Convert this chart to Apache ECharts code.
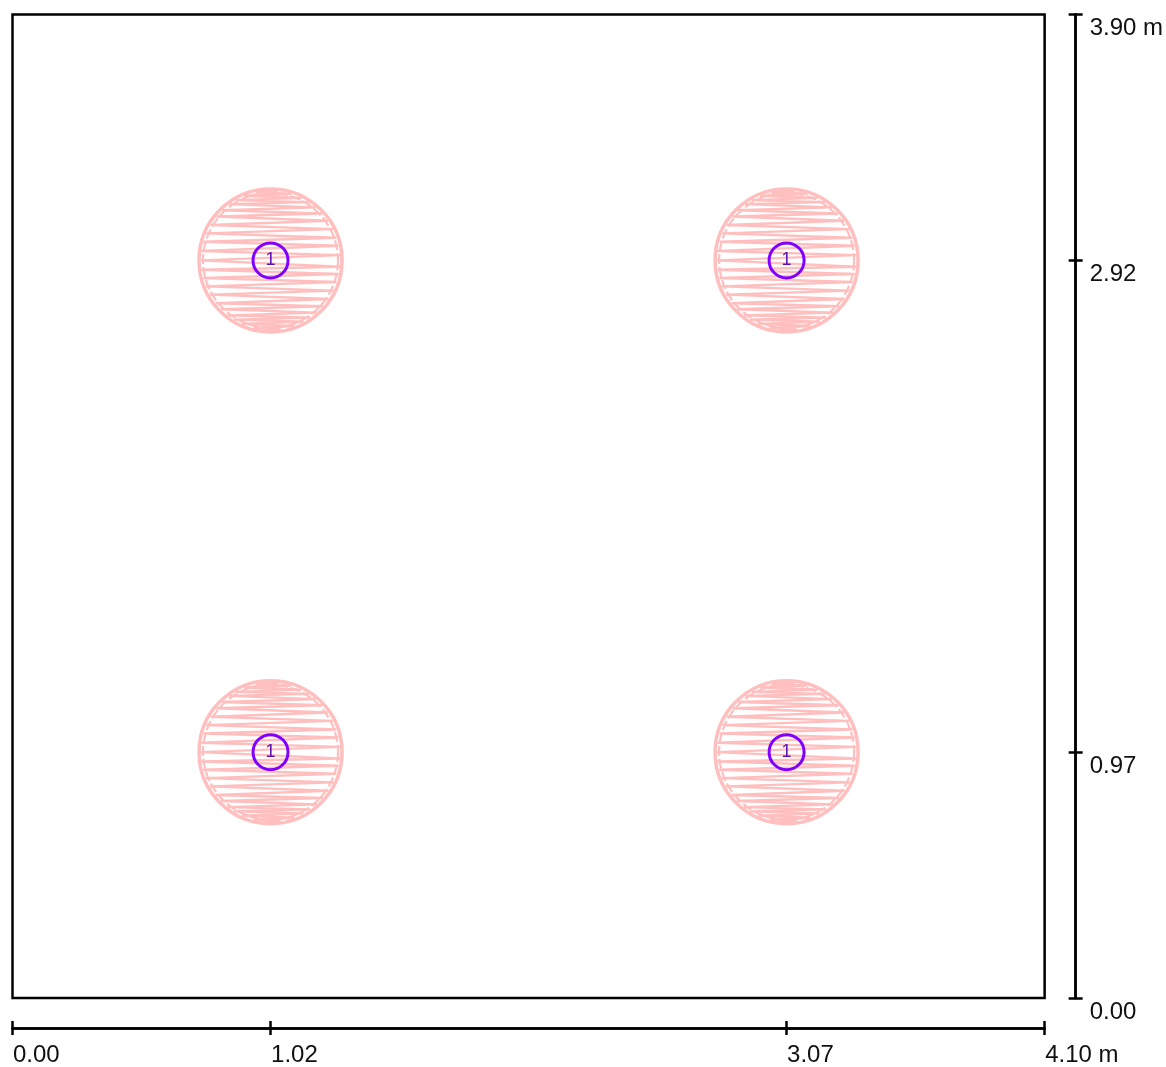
<!DOCTYPE html>
<html>
<head>
<meta charset="utf-8">
<style>html,body{margin:0;padding:0;background:#fff}#c{width:1166px;height:1067px}</style>
<script src="https://cdn.jsdelivr.net/npm/echarts@6/dist/echarts.min.js"></script>
</head>
<body>
<div id="c"></div>
<script>
const xTicks = [0, 1.025, 3.075, 4.1];
const xTickLabels = ['0.00', '1.02', '3.07', '4.10 m'];
const yTicks = [0, 0.975, 2.925, 3.9];
const yTickLabels = ['0.00', '0.97', '2.92', '3.90 m'];
const pileCentres = [[1.025, 2.925], [3.075, 2.925], [1.025, 0.975], [3.075, 0.975]];
const pileNumbers = ['1', '1', '1', '1'];
const pileDiameterPx = 143;
const innerRingDiameterPx = 135;
const barDiameterPx = 35;
// hatch path of one pile, millimetres from the pile centre
const hatchX = [-20,30,-58,82,-105,123,-138,152,-164,179,-192,205,-215,228,-238,248,-255,261,-266,270,-275,276,-277,276,-275,271,-267,262,-257,250,-240,231,-218,208,-197,184,-170,158,-146,131,-114,95,-67,40,-25];
const hatchY = [276,274,270,264,256,248,239,231,223,210,199,186,174,157,140,124,107,90,74,58,37,21,0,-25,-37,-54,-70,-86,-103,-120,-136,-153,-170,-182,-194,-207,-218,-227,-235,-243,-252,-260,-268,-272,-276];

const FONT = '"Liberation Sans", Arial, sans-serif';
const BLACK = '#000';
const PINK = '#ffbfbf';
const PURPLE = '#7f00ff';

function lookup(values, labels) {
  return v => labels[values.findIndex(t => Math.abs(t - v) < 1e-6)] ?? '';
}
function dimX(inside, labelled) {
  return {
    type: 'value', position: 'bottom', offset: 30, min: 0, max: 4.1,
    splitLine: { show: false },
    axisLine: { show: true, onZero: false, lineStyle: { color: BLACK, width: 2.5 } },
    axisTick: { show: true, inside, length: 7, customValues: xTicks, lineStyle: { color: BLACK, width: 2.5 } },
    axisLabel: labelled ? {
      show: true, customValues: xTicks, formatter: lookup(xTicks, xTickLabels),
      color: '#111', fontFamily: FONT, fontSize: 24, align: 'left', margin: 15, hideOverlap: false,
      verticalAlign: 'top', padding: [0, 0, 0, 0.5]
    } : { show: false }
  };
}
function dimY(inside, labelled) {
  return {
    type: 'value', position: 'right', offset: 31, min: 0, max: 3.9,
    splitLine: { show: false },
    axisLine: { show: true, onZero: false, lineStyle: { color: BLACK, width: 2.5 } },
    axisTick: { show: true, inside, length: 7, customValues: yTicks, lineStyle: { color: BLACK, width: 2.5 } },
    axisLabel: labelled ? {
      show: true, customValues: yTicks, formatter: lookup(yTicks, yTickLabels),
      color: '#111', fontFamily: FONT, fontSize: 24, align: 'left', margin: 14, hideOverlap: false,
      verticalAlign: 'top', lineHeight: 24, padding: [2, 0, 0, 0]
    } : { show: false }
  };
}

const hatchSeries = pileCentres.map(c => ({
  type: 'line', silent: true, showSymbol: false, symbol: 'none', z: 2,
  lineStyle: { color: PINK, width: 2.4, join: 'bevel' },
  data: hatchX.map((dx, i) => [c[0] + dx / 1000, c[1] + hatchY[i] / 1000])
}));

const chart = echarts.init(document.getElementById('c'), null, { renderer: 'canvas' });
chart.setOption({
  animation: false,
  backgroundColor: '#fff',
  grid: { left: 12.5, top: 14.5, width: 1033, height: 985, show: true, borderColor: BLACK, borderWidth: 2.5, backgroundColor: 'transparent' },
  xAxis: [dimX(false, true), dimX(true, false)],
  yAxis: [dimY(false, true), dimY(true, false)],
  series: [
    ...hatchSeries,
    {
      type: 'scatter', silent: true, z: 3, symbol: 'circle', symbolSize: pileDiameterPx,
      itemStyle: { color: 'rgba(0,0,0,0)', borderColor: PINK, borderWidth: 3.5, opacity: 1 },
      data: pileCentres
    },
    {
      type: 'scatter', silent: true, z: 3, symbol: 'circle', symbolSize: innerRingDiameterPx,
      itemStyle: { color: 'rgba(0,0,0,0)', borderColor: PINK, borderWidth: 2.2, borderType: [10, 3], opacity: 1 },
      data: pileCentres
    },
    {
      type: 'scatter', silent: true, z: 4, symbol: 'circle', symbolSize: barDiameterPx,
      itemStyle: { color: 'rgba(0,0,0,0)', borderColor: PURPLE, borderWidth: 3, opacity: 1 },
      label: {
        show: true, position: 'inside', color: '#5b10b8', fontFamily: FONT, fontSize: 18,
        formatter: p => pileNumbers[p.dataIndex]
      },
      data: pileCentres
    }
  ]
});
</script>
</body>
</html>
